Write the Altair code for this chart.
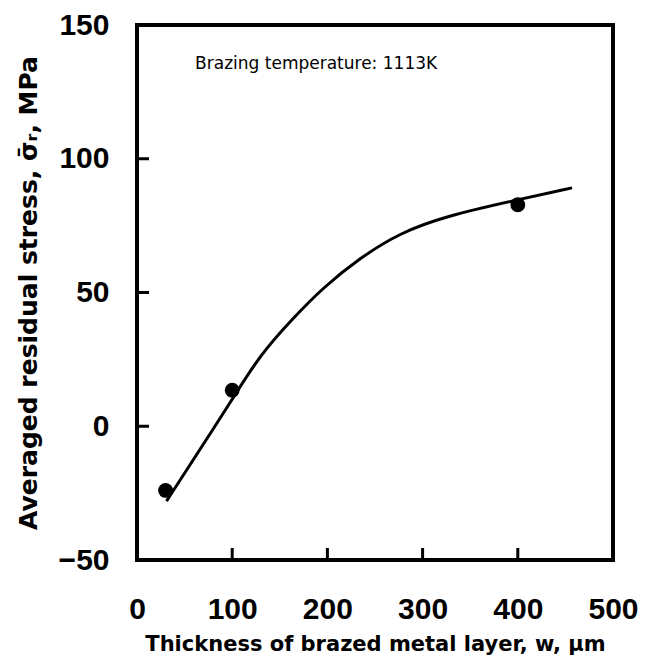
import altair as alt
import pandas as pd

# measured points
pt_w = [30, 100, 400]
pt_s = [-24, 13.5, 82.8]

# fitted curve
cv_w = [31, 60, 101, 129, 164, 195, 234, 276, 325, 395, 457]
cv_s = [-28, -12, 10.5, 26.6, 40.4, 51.7, 62.9, 72.3, 78.6, 84.3, 89.1]

x_ticks = [100, 200, 300, 400]
y_ticks = [0, 50, 100]

note_text = ["Brazing temperature: 1113K"]
note_w = [61]
note_s = [135.5]

W, H = 476, 535
FONT = "Liberation Sans"
TFONT = "DejaVu Sans"

xs = alt.Scale(domain=[0, 500], nice=False)
ys = alt.Scale(domain=[-50, 150], nice=False)

x_axis = alt.Axis(values=[0, 100, 200, 300, 400, 500], ticks=False, domain=False, grid=False,
                  labelFont=FONT, labelFontSize=30, labelFontWeight="bold", labelColor="black",
                  labelPadding=34, labelFlush=False, labelOverlap=False,
                  title="Thickness of brazed metal layer,  w,  μm",
                  titleFont=TFONT, titleFontSize=21, titleFontWeight="bold", titleColor="black",
                  titlePadding=9)
y_axis = alt.Axis(values=[-50, 0, 50, 100, 150], ticks=False, domain=False, grid=False,
                  labelFont=FONT, labelFontSize=30, labelFontWeight="bold", labelColor="black",
                  labelPadding=28, labelFlush=False, labelOverlap=False,
                  title="Averaged residual stress, σ̄ᵣ, MPa",
                  titleFont=TFONT, titleFontSize=25, titleFontWeight="bold", titleColor="black",
                  titlePadding=17)

curve_df = pd.DataFrame({"w": cv_w, "s": cv_s})
pts_df = pd.DataFrame({"w": pt_w, "s": pt_s})
xt_df = pd.DataFrame({"w": x_ticks})
yt_df = pd.DataFrame({"s": y_ticks})
note_df = pd.DataFrame({"w": note_w, "s": note_s, "t": note_text})

curve = alt.Chart(curve_df).mark_line(color="black", strokeWidth=3, interpolate="basis").encode(
    x=alt.X("w:Q", scale=xs, axis=x_axis),
    y=alt.Y("s:Q", scale=ys, axis=y_axis),
)
pts = alt.Chart(pts_df).mark_point(filled=True, color="black", size=220, opacity=1).encode(
    x=alt.X("w:Q", scale=xs), y=alt.Y("s:Q", scale=ys)
)
xt = alt.Chart(xt_df).mark_rule(color="black", strokeWidth=3).encode(
    x=alt.X("w:Q", scale=xs), y=alt.value(H), y2=alt.value(H - 12)
)
yt = alt.Chart(yt_df).mark_rule(color="black", strokeWidth=3).encode(
    y=alt.Y("s:Q", scale=ys), x=alt.value(0), x2=alt.value(12)
)
note = alt.Chart(note_df).mark_text(font="DejaVu Sans", fontSize=17, align="left",
                                     baseline="middle", color="black").encode(
    x=alt.X("w:Q", scale=xs), y=alt.Y("s:Q", scale=ys), text="t:N"
)

chart = (curve + pts + xt + yt + note).properties(
    width=W, height=H,
    autosize=alt.AutoSizeParams(type="none"),
    padding={"left": 137, "top": 25, "right": 33, "bottom": 104},
    background="white",
).configure_view(stroke="black", strokeWidth=4)

chart.save("out.html", embed_options={"renderer": "svg", "actions": False})
